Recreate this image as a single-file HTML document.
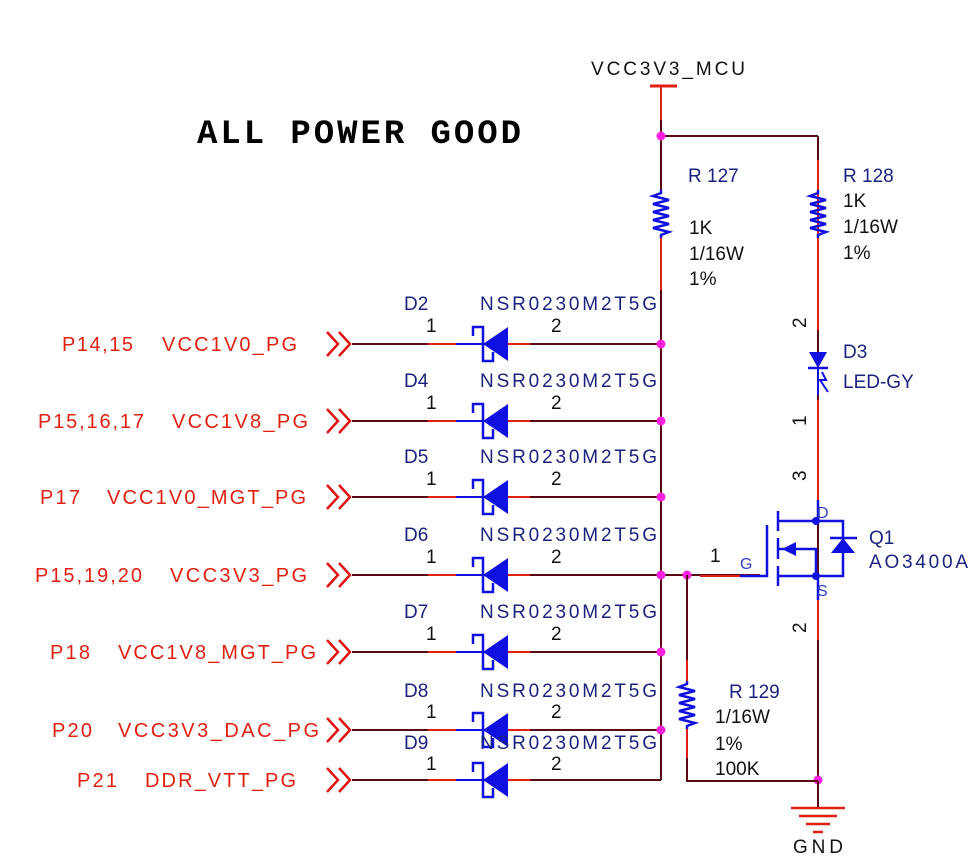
<!DOCTYPE html>
<html><head><meta charset="utf-8"><style>
html,body{margin:0;padding:0;background:#fff;}
svg{display:block;}
text{font-family:"Liberation Sans",sans-serif;}
</style></head><body>
<svg width="974" height="860" viewBox="0 0 974 860" xmlns="http://www.w3.org/2000/svg">
<defs>
<g id="dio">
  <line x1="-30" y1="0" x2="-2" y2="0" stroke="#e02010" stroke-width="2"/>
  <line x1="-2" y1="0" x2="72" y2="0" stroke="#1010e0" stroke-width="2"/>
  <line x1="48" y1="0" x2="72" y2="0" stroke="#e02010" stroke-width="2"/>
  <polygon points="25,0 50,-17 50,17" fill="#1010e0"/>
  <polyline points="15,-8 15,-17 25,-17 25,17 35,17 35,8" fill="none" stroke="#1010e0" stroke-width="2.5"/>
</g>
<g id="arr" fill="none" stroke="#e01010" stroke-width="2.5">
  <polyline points="327,-12 338,0 327,12"/>
  <polyline points="339,-12 350,0 339,12"/>
</g>
<polyline id="res" points="0,0 0,3 -8,6 8,10 -8,14 8,18 -8,22 8,26 -8,30 8,34 -8,38 8,42 0,45 0,48" fill="none" stroke="#1010e0" stroke-width="2.5"/>
</defs>

<text x="197" y="143" font-weight="bold" font-size="34" textLength="324" style="font-family:'Liberation Mono',monospace">ALL POWER GOOD</text>

<text x="591" y="75" font-size="19" fill="#111" textLength="154">VCC3V3_MCU</text>
<line x1="650" y1="86" x2="677" y2="86" stroke="#e02010" stroke-width="3"/>
<line x1="661" y1="86" x2="661" y2="190" stroke="#5a0a14" stroke-width="2"/>
<line x1="661" y1="86" x2="661" y2="120" stroke="#e02010" stroke-width="2"/>
<line x1="661" y1="136" x2="818" y2="136" stroke="#5a0a14" stroke-width="2"/>
<line x1="818" y1="136" x2="818" y2="780" stroke="#5a0a14" stroke-width="2"/>
<line x1="818" y1="160" x2="818" y2="330" stroke="#e02010" stroke-width="2"/>
<line x1="818" y1="400" x2="818" y2="505" stroke="#e02010" stroke-width="2"/>
<line x1="818" y1="600" x2="818" y2="640" stroke="#e02010" stroke-width="2"/>
<line x1="661" y1="238" x2="661" y2="780" stroke="#5a0a14" stroke-width="2"/>
<line x1="661" y1="238" x2="661" y2="290" stroke="#e02010" stroke-width="2"/>
<circle cx="661" cy="136" r="4.5" fill="#ff20e0"/>

<use href="#res" x="661" y="190"/>
<use href="#res" x="818" y="190"/>
<g font-size="19">
<text x="688" y="182" fill="#1a237e">R 127</text>
<text x="689" y="234" fill="#111">1K</text>
<text x="689" y="260" fill="#111">1/16W</text>
<text x="689" y="285" fill="#111">1%</text>
<text x="843" y="182" fill="#1a237e">R 128</text>
<text x="843" y="207" fill="#111">1K</text>
<text x="843" y="233" fill="#111">1/16W</text>
<text x="843" y="259" fill="#111">1%</text>
</g>

<g stroke="#5a0a14" stroke-width="2">
<line x1="352" y1="344" x2="661" y2="344"/>
<line x1="352" y1="421" x2="661" y2="421"/>
<line x1="352" y1="497" x2="661" y2="497"/>
<line x1="352" y1="575" x2="760" y2="575"/>
<line x1="352" y1="652" x2="661" y2="652"/>
<line x1="352" y1="730" x2="661" y2="730"/>
<line x1="352" y1="780" x2="661" y2="780"/>
</g>
<use href="#dio" x="458" y="344"/><use href="#dio" x="458" y="421"/><use href="#dio" x="458" y="497"/>
<use href="#dio" x="458" y="575"/><use href="#dio" x="458" y="652"/><use href="#dio" x="458" y="730"/>
<use href="#dio" x="458" y="780"/>
<use href="#arr" y="344"/><use href="#arr" y="421"/><use href="#arr" y="497"/><use href="#arr" y="575"/>
<use href="#arr" y="652"/><use href="#arr" y="730"/><use href="#arr" y="780"/>
<g fill="#ff20e0">
<circle cx="661" cy="344" r="4.5"/><circle cx="661" cy="421" r="4.5"/><circle cx="661" cy="497" r="4.5"/>
<circle cx="661" cy="575" r="4.5"/><circle cx="687" cy="575" r="4.5"/><circle cx="661" cy="652" r="4.5"/>
<circle cx="661" cy="730" r="4.5"/><circle cx="818" cy="780" r="4.5"/>
</g>

<g font-size="19" fill="#1a237e">
<text x="404" y="310">D2</text><text x="480" y="310" textLength="177">NSR0230M2T5G</text>
<text x="404" y="387">D4</text><text x="480" y="387" textLength="177">NSR0230M2T5G</text>
<text x="404" y="463">D5</text><text x="480" y="463" textLength="177">NSR0230M2T5G</text>
<text x="404" y="541">D6</text><text x="480" y="541" textLength="177">NSR0230M2T5G</text>
<text x="404" y="618">D7</text><text x="480" y="618" textLength="177">NSR0230M2T5G</text>
<text x="404" y="697">D8</text><text x="480" y="697" textLength="177">NSR0230M2T5G</text>
<text x="404" y="749">D9</text><text x="480" y="749" textLength="177">NSR0230M2T5G</text>
</g>
<g font-size="19" fill="#111">
<text x="426" y="332">1</text><text x="551" y="332">2</text>
<text x="426" y="409">1</text><text x="551" y="409">2</text>
<text x="426" y="485">1</text><text x="551" y="485">2</text>
<text x="426" y="563">1</text><text x="551" y="563">2</text>
<text x="426" y="640">1</text><text x="551" y="640">2</text>
<text x="426" y="718">1</text><text x="551" y="718">2</text>
<text x="426" y="770">1</text><text x="551" y="770">2</text>
</g>
<g font-size="20" fill="#e02010">
<text x="62" y="351" textLength="71">P14,15</text><text x="162" y="351" textLength="135">VCC1V0_PG</text>
<text x="38" y="428" textLength="106">P15,16,17</text><text x="172" y="428" textLength="136">VCC1V8_PG</text>
<text x="40" y="504" textLength="40">P17</text><text x="107" y="504" textLength="199">VCC1V0_MGT_PG</text>
<text x="35" y="582" textLength="107">P15,19,20</text><text x="170" y="582" textLength="137">VCC3V3_PG</text>
<text x="50" y="659" textLength="40">P18</text><text x="118" y="659" textLength="198">VCC1V8_MGT_PG</text>
<text x="52" y="737" textLength="40">P20</text><text x="118" y="737" textLength="201">VCC3V3_DAC_PG</text>
<text x="77" y="787" textLength="40">P21</text><text x="145" y="787" textLength="151">DDR_VTT_PG</text>
</g>

<polygon points="809,352 827,352 818,368" fill="#1010e0"/>
<line x1="808" y1="368" x2="828" y2="368" stroke="#1010e0" stroke-width="2.5"/>
<line x1="818" y1="368" x2="818" y2="395" stroke="#1010e0" stroke-width="2"/>
<polyline points="822,372 826,380 820,380 828,392" fill="none" stroke="#1010e0" stroke-width="2"/>
<text x="843" y="358" font-size="19" fill="#1a237e">D3</text>
<text x="843" y="388" font-size="19" fill="#1a237e">LED-GY</text>
<g font-size="19" fill="#111">
<text transform="translate(806,328) rotate(-90)">2</text>
<text transform="translate(806,426) rotate(-90)">1</text>
<text transform="translate(806,481) rotate(-90)">3</text>
<text transform="translate(806,633) rotate(-90)">2</text>
</g>

<line x1="700" y1="576" x2="740" y2="576" stroke="#e02010" stroke-width="2"/>
<g stroke="#1010e0" stroke-width="2.5" fill="none">
<polyline points="740,576 767,576 767,525"/>
<line x1="778" y1="511" x2="778" y2="531"/>
<line x1="778" y1="538" x2="778" y2="559"/>
<line x1="778" y1="566" x2="778" y2="586"/>
<polyline points="818,500 818,521 778,521"/>
<polyline points="778,549 816,549 816,576 778,576"/>
<polyline points="818,576 818,600"/>
<polyline points="818,521 843,521 843,576 818,576"/>
<line x1="830" y1="538" x2="857" y2="538"/>
</g>
<polygon points="782,549 796,542 796,556" fill="#1010e0"/>
<polygon points="843,538 831,553 855,553" fill="#1010e0"/>
<circle cx="816" cy="521" r="4" fill="#1010e0"/><circle cx="816" cy="576" r="4" fill="#1010e0"/>
<text x="817" y="518" font-size="16" fill="#3040c0">D</text>
<text x="817" y="596" font-size="16" fill="#3040c0">S</text>
<text x="740" y="569" font-size="16" fill="#3040c0">G</text>
<text x="710" y="562" font-size="19" fill="#111">1</text>
<text x="869" y="544" font-size="19" fill="#1a237e">Q1</text>
<text x="869" y="568" font-size="19" fill="#1a237e" textLength="99">AO3400A</text>

<line x1="687" y1="575" x2="687" y2="681" stroke="#5a0a14" stroke-width="2"/>
<line x1="687" y1="660" x2="687" y2="681" stroke="#e02010" stroke-width="2"/>
<use href="#res" x="687" y="681"/>
<polyline points="687,729 687,781 818,781" fill="none" stroke="#5a0a14" stroke-width="2"/>
<line x1="687" y1="729" x2="687" y2="758" stroke="#e02010" stroke-width="2"/>
<g font-size="19">
<text x="729" y="698" fill="#1a237e">R 129</text>
<text x="715" y="723" fill="#111">1/16W</text>
<text x="715" y="750" fill="#111">1%</text>
<text x="715" y="775" fill="#111">100K</text>
</g>

<line x1="818" y1="781" x2="818" y2="808" stroke="#5a0a14" stroke-width="2"/>
<g stroke="#e02010" stroke-width="2.5">
<line x1="791" y1="808" x2="845" y2="808"/>
<line x1="799" y1="816" x2="837" y2="816"/>
<line x1="806" y1="824" x2="830" y2="824"/>
<line x1="813" y1="832" x2="823" y2="832"/>
</g>
<text x="793" y="853" font-size="19" fill="#111" textLength="50">GND</text>
</svg>
</body></html>
